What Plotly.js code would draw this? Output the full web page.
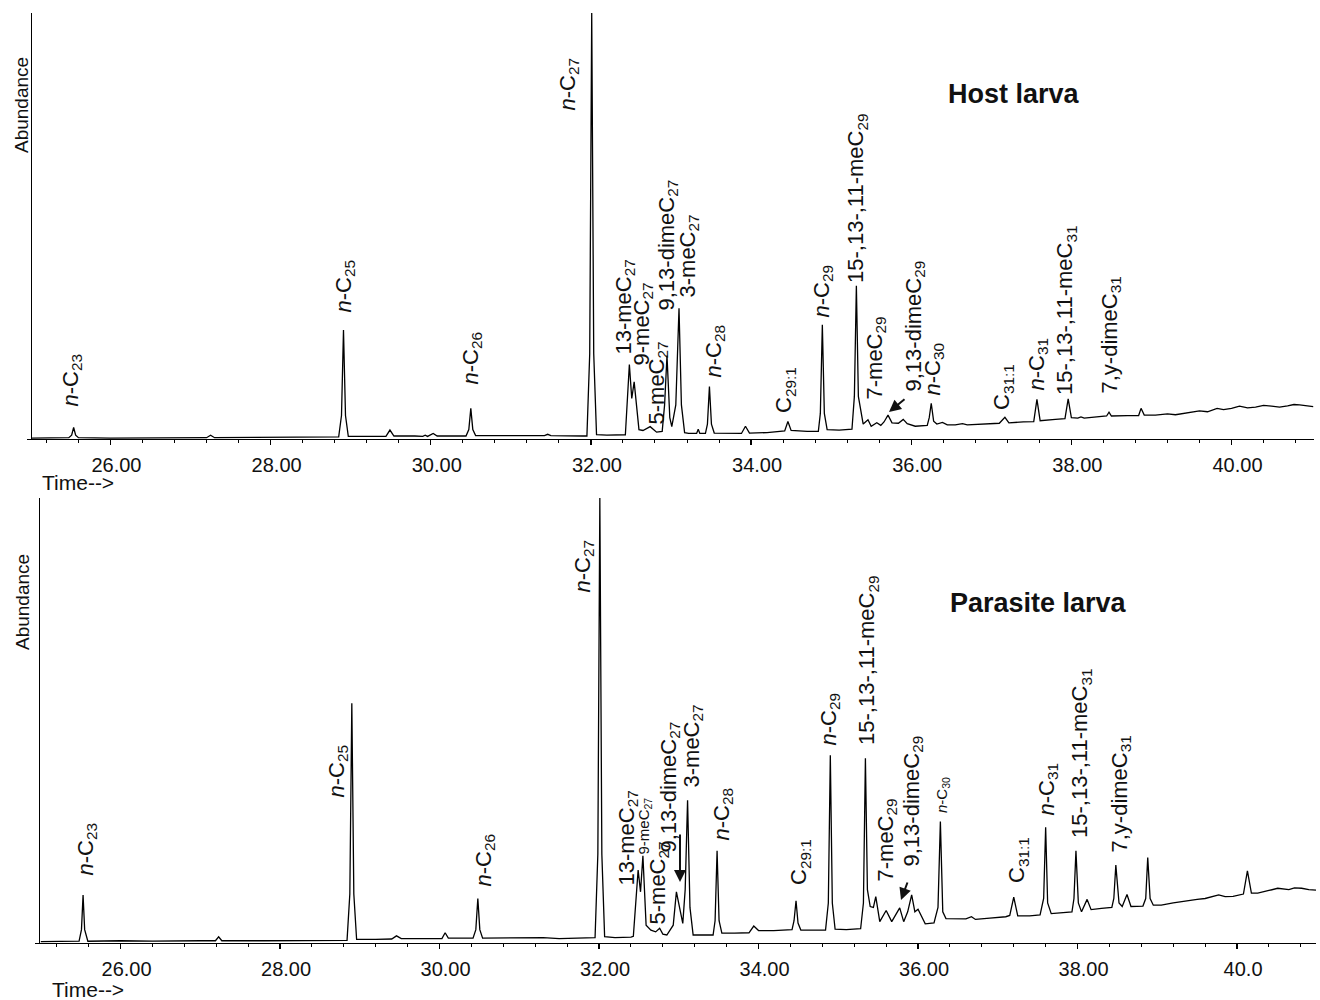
<!DOCTYPE html>
<html>
<head>
<meta charset="utf-8">
<script src="https://cdn.plot.ly/plotly-3.0.1.min.js"></script>
<style>html,body{margin:0;padding:0;background:#fff}#chart{width:1320px;height:1000px}</style>
</head>
<body>
<div id="chart"></div>
<script>
// ---------- DATA ----------
// Host larva chromatogram: retention time (min) and abundance (% of n-C27)
const hostTime = [
 25.02,25.30,25.48,25.515,25.54,25.565,25.60,26.00,26.50,27.00,27.20,27.25,27.30,27.80,28.40,28.85,28.885,28.91,28.935,28.97,
 29.20,29.44,29.49,29.54,29.80,29.90,29.93,29.96,30.03,30.08,30.44,30.475,30.50,30.525,30.56,30.90,31.20,31.42,31.46,31.50,
 31.90,31.95,31.985,32.01,32.035,32.07,32.20,32.40,32.43,32.48,32.51,32.54,32.60,32.65,32.74,32.82,32.89,32.92,32.95,32.985,
 33.01,33.06,33.10,33.13,33.17,33.22,33.32,33.34,33.36,33.43,33.455,33.48,33.505,33.54,33.70,33.88,33.93,33.98,34.20,34.35,
 34.42,34.46,34.50,34.70,34.84,34.865,34.89,34.915,34.95,35.10,35.26,35.29,35.315,35.34,35.37,35.40,35.46,35.50,35.57,35.62,
 35.66,35.71,35.76,35.84,35.90,35.95,36.05,36.20,36.225,36.25,36.28,36.32,36.39,36.45,36.55,36.64,36.70,36.90,37.10,37.17,
 37.22,37.40,37.53,37.57,37.61,37.80,37.92,37.96,38.00,38.08,38.12,38.16,38.35,38.44,38.47,38.50,38.70,38.84,38.87,38.91,
 39.05,39.20,39.30,39.45,39.60,39.70,39.82,39.90,40.00,40.10,40.20,40.30,40.40,40.50,40.60,40.70,40.78,40.85,40.95,41.02
];
const hostAbund = [
 0.2,0.3,0.3,0.9,2.7,0.9,0.3,0.2,0.3,0.3,0.3,0.9,0.3,0.4,0.4,0.5,5.5,25.6,5.5,0.6,
 0.6,0.6,2.1,0.7,0.7,0.6,0.9,0.6,1.3,0.7,0.7,2.2,7.2,2.2,0.8,0.8,0.8,0.8,1.1,0.8,
 0.7,0.7,20.0,100,20.0,1.0,0.9,0.9,1.0,17.5,9.5,13.4,2.2,2.0,2.9,1.6,1.8,8.0,19.6,5.0,
 2.9,8.0,30.7,8.0,1.5,1.3,1.3,2.3,1.3,1.3,3.5,12.3,3.5,1.4,1.3,1.3,3.0,1.4,1.5,1.7,
 1.9,4.1,2.0,1.8,1.8,6.0,26.8,6.0,2.2,2.1,2.3,10.0,36.0,10.0,6.8,3.5,4.5,3.0,3.8,3.2,
 4.0,5.6,3.8,3.7,4.6,3.6,3.0,3.2,5.0,8.4,4.2,3.5,3.9,3.3,3.3,3.6,3.3,3.5,3.7,5.1,
 3.8,4.0,4.1,9.3,4.3,4.6,4.8,9.4,5.0,4.9,5.2,4.9,5.2,5.4,6.3,5.4,5.5,5.5,7.2,5.6,
 5.6,5.9,5.7,6.2,6.6,6.4,7.2,6.9,7.2,7.7,7.3,7.5,7.9,7.7,7.5,7.8,8.1,8.0,7.7,7.6
];

// Parasite larva chromatogram
const parasiteTime = [
 25.00,25.30,25.48,25.51,25.53,25.55,25.59,26.00,26.40,27.00,27.19,27.23,27.27,27.80,28.40,28.84,28.875,28.90,28.925,28.96,
 29.20,29.40,29.46,29.52,29.80,30.03,30.07,30.11,30.42,30.455,30.48,30.505,30.54,30.90,31.30,31.50,31.90,31.95,31.985,32.01,
 32.035,32.07,32.20,32.40,32.43,32.49,32.52,32.55,32.59,32.65,32.71,32.76,32.80,32.85,32.93,32.97,33.05,33.08,33.11,33.14,
 33.18,33.30,33.43,33.455,33.48,33.505,33.54,33.70,33.88,33.94,34.00,34.19,34.35,34.42,34.445,34.47,34.495,34.53,34.70,34.84,
 34.875,34.90,34.925,34.96,35.10,35.28,35.315,35.34,35.365,35.40,35.44,35.47,35.52,35.60,35.67,35.77,35.82,35.87,35.92,35.96,
 36.00,36.09,36.20,36.25,36.28,36.31,36.35,36.50,36.60,36.67,36.72,36.90,37.10,37.15,37.20,37.25,37.40,37.53,37.575,37.60,
 37.625,37.67,37.85,37.93,37.955,37.98,38.01,38.05,38.12,38.17,38.30,38.43,38.455,38.48,38.52,38.56,38.62,38.67,38.82,38.855,
 38.88,38.91,38.95,39.05,39.20,39.30,39.41,39.50,39.60,39.70,39.77,39.85,39.95,40.08,40.13,40.18,40.26,40.40,40.51,40.65,
 40.72,40.81,40.90,40.99
];
const parasiteAbund = [
 0.3,0.4,0.4,3.0,10.8,3.0,0.4,0.5,0.4,0.5,0.5,1.4,0.5,0.5,0.6,0.6,11.0,53.9,11.0,0.8,
 0.8,0.9,1.6,1.0,1.0,1.0,2.3,1.1,1.1,3.0,10.0,3.0,1.1,1.1,1.2,1.0,1.2,1.2,20.0,100,
 20.0,1.4,1.2,1.3,1.5,16.4,11.5,19.6,4.0,2.9,2.5,3.3,2.0,1.8,4.0,11.5,4.4,12.0,32.1,8.0,
 1.8,1.8,1.8,5.0,20.7,5.0,2.2,2.2,2.3,3.8,2.8,2.8,2.9,3.0,5.0,9.5,4.5,2.9,2.9,2.9,
 9.0,42.2,9.0,3.1,3.0,3.2,9.0,41.5,12.0,8.2,8.0,10.4,4.8,7.3,4.8,7.9,4.8,7.0,10.8,7.0,
 7.6,4.3,4.5,8.0,27.3,7.0,5.5,5.5,5.4,5.9,5.3,5.6,5.9,6.2,10.3,6.1,6.1,6.3,10.0,26.0,
 9.0,6.6,6.8,7.0,10.0,20.7,9.0,7.0,9.8,7.5,7.8,8.0,10.0,17.5,9.0,8.2,10.9,8.2,8.3,10.0,
 19.2,10.0,8.5,8.5,9.0,9.3,9.5,9.8,10.0,10.4,10.8,10.4,10.5,11.0,16.2,11.2,11.2,11.8,12.3,12.0,
 12.4,12.3,12.0,11.9
];

// Axis tick values and labels
const majorTicks = [26, 28, 30, 32, 34, 36, 38, 40];
const hostTickText = ["26.00","28.00","30.00","32.00","34.00","36.00","38.00","40.00"];
const parasiteTickText = ["26.00","28.00","30.00","32.00","34.00","36.00","38.00","40.0"];
const minorTicks = [25.2,25.6,26.4,26.8,27.2,27.6,28.4,28.8,29.2,29.6,30.4,30.8,31.2,31.6,32.4,32.8,33.2,33.6,
                    34.4,34.8,35.2,35.6,36.4,36.8,37.2,37.6,38.4,38.8,39.2,39.6,40.4,40.8];

// Peak labels
const hostLabels = ["<i>n</i>-C<sub>23</sub>","<i>n</i>-C<sub>25</sub>","<i>n</i>-C<sub>26</sub>","<i>n</i>-C<sub>27</sub>",
  "13-meC<sub>27</sub>","9-meC<sub>27</sub>","5-meC<sub>27</sub>","9,13-dimeC<sub>27</sub>","3-meC<sub>27</sub>",
  "<i>n</i>-C<sub>28</sub>","C<sub>29:1</sub>","<i>n</i>-C<sub>29</sub>","15-,13-,11-meC<sub>29</sub>","7-meC<sub>29</sub>",
  "9,13-dimeC<sub>29</sub>","<i>n</i>-C<sub>30</sub>","C<sub>31:1</sub>","<i>n</i>-C<sub>31</sub>",
  "15-,13-,11-meC<sub>31</sub>","7,y-dimeC<sub>31</sub>"];
const parasiteLabels = hostLabels.slice();
const panelTitles = ["Host larva", "Parasite larva"];

// ---------- LAYOUT HELPERS (pixel placement of texts) ----------
const W = 1320, H = 1000;
const px = x => x / W, py = y => 1 - y / H;
const FONT = "Liberation Sans, Arial, Helvetica, sans-serif";

// label positions: [centre x, bottom y, font size]
const hostLabelPos = [[71,409,22],[345,315,22],[471,387,22],[569,113,22],[624,357,22],[642,368,22],[657,427,22],
  [668,313,22],[688,300,22],[714,380,22],[785,415,22],[822,320,22],[857,285,22],[875,402,22],[914,394,22],
  [933,398,22],[1003,412,22],[1037,393,22],[1066,397,22],[1110,396,22]];
const parasiteLabelPos = [[86,878,22],[337,800,22],[484,888,22],[583,595,22],[627,888,22],[644,857,15],[658,927,22],
  [669,855,22],[692,790,22],[722,843,22],[800,887,22],[829,748,22],[868,747,22],[886,884,22],[912,869,22],
  [942,815,15],[1018,885,22],[1047,818,22],[1081,840,22],[1120,855,22]];

const annotations = [];
function addLabels(texts, pos) {
  texts.forEach((t, i) => {
    const p = pos[i];
    annotations.push({xref:'paper', yref:'paper', x:px(p[0]), y:py(p[1]), xanchor:'center', yanchor:'bottom',
      textangle:-90, showarrow:false, text:t, font:{family:FONT, size:p[2], color:'#111'}});
  });
}
addLabels(hostLabels, hostLabelPos);
addLabels(parasiteLabels, parasiteLabelPos);

// arrows: [tailX, tailY, headX, headY]
[[906,398,889,412],[908,881,901,900],[680,833,680,882]].forEach(a => {
  annotations.push({xref:'paper', yref:'paper', x:px(a[2]), y:py(a[3]), text:'', showarrow:true,
    axref:'pixel', ayref:'pixel', ax:a[0]-a[2], ay:a[1]-a[3], arrowhead:2, arrowsize:1.2, arrowwidth:2, arrowcolor:'#111'});
});

// panel titles, axis texts
annotations.push({xref:'paper', yref:'paper', x:px(946), y:py(94), xanchor:'left', yanchor:'middle', showarrow:false,
  text:'<b>'+panelTitles[0]+'</b>', font:{family:FONT, size:27, color:'#111'}});
annotations.push({xref:'paper', yref:'paper', x:px(948), y:py(603), xanchor:'left', yanchor:'middle', showarrow:false,
  text:'<b>'+panelTitles[1]+'</b>', font:{family:FONT, size:27, color:'#111'}});
[[40,482],[50,989]].forEach(p => annotations.push({xref:'paper', yref:'paper', x:px(p[0]), y:py(p[1]), xanchor:'left',
  yanchor:'middle', showarrow:false, text:'Time-->', font:{family:FONT, size:21, color:'#111'}}));
[[22,105],[22,602]].forEach(p => annotations.push({xref:'paper', yref:'paper', x:px(p[0]), y:py(p[1]), xanchor:'center',
  yanchor:'middle', textangle:-90, showarrow:false, text:'Abundance', font:{family:FONT, size:19, color:'#111'}}));

// ---------- TRACES ----------
const traces = [
  {x:hostTime, y:hostAbund, xaxis:'x', yaxis:'y', type:'scatter', mode:'lines', line:{color:'#000', width:1.3}, hoverinfo:'skip'},
  {x:parasiteTime, y:parasiteAbund, xaxis:'x2', yaxis:'y2', type:'scatter', mode:'lines', line:{color:'#000', width:1.3}, hoverinfo:'skip'}
];

function xAxis(domain, range, text, anchor) {
  return {domain:domain, range:range, anchor:anchor, showline:true, linecolor:'#000', linewidth:1.3, showgrid:false,
    zeroline:false, tickmode:'array', tickvals:majorTicks, ticktext:text, ticks:'outside', ticklen:5, tickwidth:1.2,
    tickcolor:'#000', ticklabelshift:6, ticklabelstandoff:3,
    tickfont:{family:FONT, size:20, color:'#111'},
    minor:{tickmode:'array', tickvals:minorTicks, ticks:'outside', ticklen:3, tickwidth:1, tickcolor:'#000', showgrid:false}};
}
function yAxis(domain, anchor) {
  return {domain:domain, range:[0,100], anchor:anchor, showline:true, linecolor:'#000', linewidth:1.3, showgrid:false,
    zeroline:false, showticklabels:false, tickmode:'array', tickvals:[0], ticks:'outside', ticklen:4, tickcolor:'#000'};
}

const layout = {
  width:W, height:H, margin:{l:0, r:0, t:0, b:0}, paper_bgcolor:'#fff', plot_bgcolor:'#fff', showlegend:false,
  hovermode:false,
  xaxis: xAxis([px(32), px(1314)], [25.02, 41.03], hostTickText, 'y'),
  yaxis: yAxis([py(439), py(13)], 'x'),
  xaxis2: xAxis([px(40), px(1316)], [24.99, 40.99], parasiteTickText, 'y2'),
  yaxis2: yAxis([py(943), py(498)], 'x2'),
  annotations: annotations
};

Plotly.newPlot('chart', traces, layout, {staticPlot:true, displayModeBar:false});
</script>
</body>
</html>
